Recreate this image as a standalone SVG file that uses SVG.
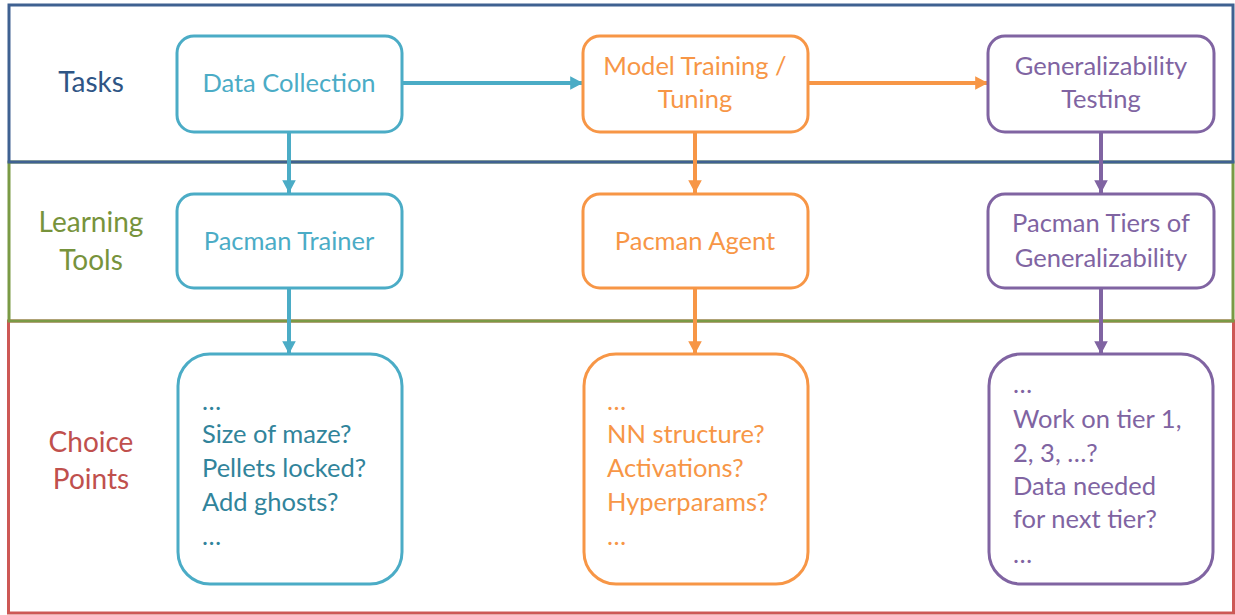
<svg xmlns="http://www.w3.org/2000/svg" width="1235" height="615" viewBox="0 0 1235 615">
<defs>
<style>
text{font-family:Lato,"Open Sans","Liberation Sans",sans-serif;font-size:25.5px}
.c{text-anchor:middle}
.lt{font-size:28px}
.lane{fill:none;stroke-width:3}
.box{fill:#fff;stroke-width:3}
.b{stroke:#4BACC6}.o{stroke:#F79646}.p{stroke:#8064A2}
.tb{fill:#4BACC6}.to{fill:#F79646}.tp{fill:#8064A2}.tbd{fill:#31849B}
.con{fill:none;stroke-width:4}
</style>
<marker id="ab" markerWidth="4" markerHeight="4" refX="3.2" refY="2" orient="auto" markerUnits="strokeWidth"><path d="M0,0.3 L3.2,2 L0,3.7 Z" fill="#4BACC6"/></marker>
<marker id="ao" markerWidth="4" markerHeight="4" refX="3.2" refY="2" orient="auto" markerUnits="strokeWidth"><path d="M0,0.3 L3.2,2 L0,3.7 Z" fill="#F79646"/></marker>
<marker id="ap" markerWidth="4" markerHeight="4" refX="3.2" refY="2" orient="auto" markerUnits="strokeWidth"><path d="M0,0.3 L3.2,2 L0,3.7 Z" fill="#8064A2"/></marker>
</defs>
<rect width="1235" height="615" fill="#fff"/>
<g id="lanes">
<rect class="lane" x="8.5" y="321" width="1225" height="292" stroke="#CD5855"/>
<rect class="lane" x="9" y="162" width="1224" height="159" stroke="#7A9A45"/>
<rect class="lane" x="9" y="5" width="1224" height="157" stroke="#3F6191"/>
<text class="c lt" x="91" y="92" fill="#2E5585">Tasks</text>
<text class="c lt" x="91" y="232" fill="#77933C">Learning</text>
<text class="c lt" x="91" y="270" fill="#77933C">Tools</text>
<text class="c lt" x="91" y="452" fill="#C0504D">Choice</text>
<text class="c lt" x="91" y="489" fill="#C0504D">Points</text>
</g>
<g id="connectors">
<line class="con" x1="402" y1="83" x2="583" y2="83" stroke="#4BACC6" marker-end="url(#ab)"/>
<line class="con" x1="808" y1="83" x2="988" y2="83" stroke="#F79646" marker-end="url(#ao)"/>
<line class="con" x1="289" y1="132" x2="289" y2="193" stroke="#4BACC6" marker-end="url(#ab)"/>
<line class="con" x1="289" y1="288" x2="289" y2="354" stroke="#4BACC6" marker-end="url(#ab)"/>
<line class="con" x1="695" y1="132" x2="695" y2="193" stroke="#F79646" marker-end="url(#ao)"/>
<line class="con" x1="695" y1="288" x2="695" y2="354" stroke="#F79646" marker-end="url(#ao)"/>
<line class="con" x1="1101" y1="132" x2="1101" y2="193" stroke="#8064A2" marker-end="url(#ap)"/>
<line class="con" x1="1101" y1="288" x2="1101" y2="354" stroke="#8064A2" marker-end="url(#ap)"/>
</g>
<g id="data-collection">
<rect class="box b" x="177" y="36" width="225" height="96" rx="17"/>
<text class="c tb" x="289" y="92">Data Collection</text>
</g>
<g id="model-training">
<rect class="box o" x="583" y="36" width="225" height="96" rx="17"/>
<text class="c to" x="695" y="75">Model Training /</text>
<text class="c to" x="695" y="108">Tuning</text>
</g>
<g id="generalizability-testing">
<rect class="box p" x="988" y="36" width="226" height="96" rx="17"/>
<text class="c tp" x="1101" y="75">Generalizability</text>
<text class="c tp" x="1101" y="108">Testing</text>
</g>
<g id="pacman-trainer">
<rect class="box b" x="177" y="194" width="225" height="94" rx="17"/>
<text class="c tb" x="289" y="250">Pacman Trainer</text>
</g>
<g id="pacman-agent">
<rect class="box o" x="583" y="194" width="225" height="94" rx="17"/>
<text class="c to" x="695" y="250">Pacman Agent</text>
</g>
<g id="pacman-tiers">
<rect class="box p" x="988" y="194" width="226" height="94" rx="17"/>
<text class="c tp" x="1101" y="232">Pacman Tiers of</text>
<text class="c tp" x="1101" y="267">Generalizability</text>
</g>
<g id="choices-data">
<rect class="box b" x="178" y="354" width="224" height="230" rx="32"/>
<text class="tbd" x="202" y="410">…</text>
<text class="tbd" x="202" y="443">Size of maze?</text>
<text class="tbd" x="202" y="477">Pellets locked?</text>
<text class="tbd" x="202" y="511">Add ghosts?</text>
<text class="tbd" x="202" y="545">…</text>
</g>
<g id="choices-model">
<rect class="box o" x="584" y="354" width="224" height="230" rx="32"/>
<text class="to" x="607" y="410">…</text>
<text class="to" x="607" y="443">NN structure?</text>
<text class="to" x="607" y="477">Activations?</text>
<text class="to" x="607" y="511">Hyperparams?</text>
<text class="to" x="607" y="545">…</text>
</g>
<g id="choices-generalizability">
<rect class="box p" x="989" y="354" width="224" height="230" rx="32"/>
<text class="tp" x="1013" y="393">…</text>
<text class="tp" x="1013" y="428">Work on tier 1,</text>
<text class="tp" x="1013" y="462">2, 3, …?</text>
<text class="tp" x="1013" y="495">Data needed</text>
<text class="tp" x="1013" y="528">for next tier?</text>
<text class="tp" x="1013" y="563">…</text>
</g>
</svg>
